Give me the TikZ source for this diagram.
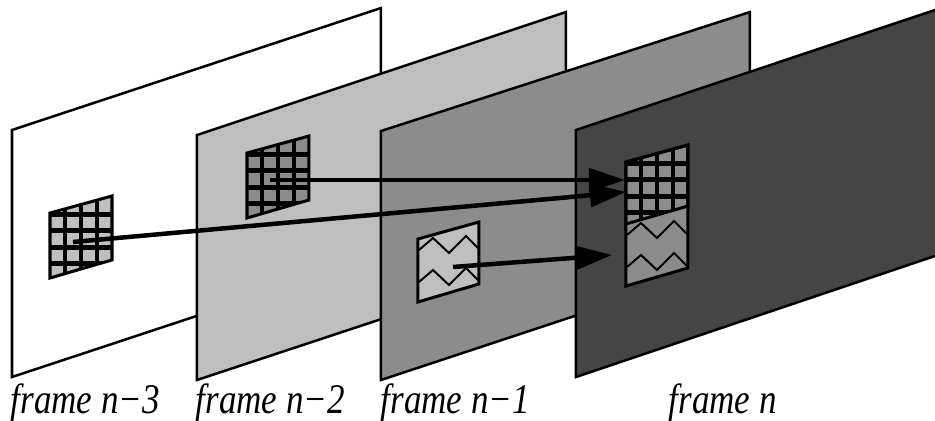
\documentclass[tikz,border=0pt]{standalone}
\usepackage{fontspec}
\setmainfont[FakeStretch=0.83]{Liberation Serif}
\usetikzlibrary{arrows.meta}

\tikzset{
    frameedge/.style={draw=black, line width=0.025cm},
    flowarrow/.style={draw=black, line width=0.045cm, -{Triangle[length=0.36cm, width=0.23cm]}},
    framelabel/.style={anchor=base west, inner sep=0pt, font=\fontsize{12}{14}\selectfont\itshape}
}

% one block of the mesh, corner at #1, cells in grey #2
\newcommand{\meshblock}[2]{
    \begin{scope}[shift={#1}]
        \fill[black!#2!white] (0,0) -- (62,-17) -- (62,47) -- (0,65) -- cycle;
        \begin{scope}
            \clip (0,0) -- (62,-17) -- (62,47) -- (0,65) -- cycle;
            \foreach \xcut in {15,31,47} {
                \draw[line width=0.045cm] (\xcut,-20) -- (\xcut,70);
            }
            \foreach \ycut in {1,17,34,50} {
                \draw[line width=0.05cm] (0,\ycut) -- (62,\ycut);
            }
        \end{scope}
        \draw[line width=0.03cm] (0,0) -- (62,-17) -- (62,47) -- (0,65) -- cycle;
    \end{scope}
}

% the two wavy lines
\newcommand{\zigzags}{
    \foreach \ycut in {0,32} {
        \draw[line width=0.02cm] (1,11+\ycut) -- (15,-1+\ycut) -- (31,14+\ycut) -- (48,-3+\ycut) -- (61,10+\ycut);
    }
}

\begin{document}
\begin{tikzpicture}[x=0.01cm, y=-0.01cm]

    \useasboundingbox (0,0) rectangle (935,421);
    \clip (0,0) rectangle (935,421);

    % Define the ends of the three arrows
    \coordinate (startA) at (270,180);
    \coordinate (tipA) at (625,180);
    \coordinate (startB) at (73,242);
    \coordinate (tipB) at (626,192);
    \coordinate (startC) at (453,267);
    \coordinate (tipC) at (612,255);

    % Draw the frames, back to front
    \draw[frameedge, fill=white] (12,130) -- (381,8) -- (381,255) -- (12,377) -- cycle;
    \draw[frameedge, fill=black!25!white] (197,135) -- (566,12) -- (566,258) -- (197,380) -- cycle;
    \draw[frameedge, fill=black!45!white] (381,131) -- (750,12) -- (750,258) -- (381,380) -- cycle;
    \fill[black!73!white] (576,130) -- (935,10) -- (935,256) -- (576,377) -- cycle;
    \draw[frameedge] (935,10) -- (576,130) -- (576,377) -- (935,256);

    % Blocks in the older frames
    \meshblock{(50,213)}{25}
    \meshblock{(247,153)}{45}

    % Wavy block in frame n-1
    \begin{scope}[shift={(418,239)}]
        \fill[black!25!white] (0,0) -- (61,-17) -- (61,45) -- (0,63) -- cycle;
        \zigzags
        \draw[line width=0.03cm] (0,0) -- (61,-17) -- (61,45) -- (0,63) -- cycle;
    \end{scope}

    % Block in frame n: mesh on top, waves below
    \meshblock{(626,162)}{45}
    \fill[black!45!white] (626,224) -- (688,206) -- (688,268) -- (626,286) -- cycle;
    \begin{scope}[shift={(626,224)}]
        \zigzags
    \end{scope}
    \draw[line width=0.03cm] (626,224) -- (688,206);
    \draw[line width=0.03cm] (626,162) -- (688,145) -- (688,268) -- (626,286) -- cycle;

    % Draw the arrows
    \draw[flowarrow] (startA) -- (tipA);
    \draw[flowarrow] (startB) -- (tipB);
    \draw[flowarrow] (startC) -- (tipC);

    % Add the frame labels
    \node[framelabel] (labelA) at (10,413) {frame n−3};
    \node[framelabel] (labelB) at (195,413) {frame n−2};
    \node[framelabel] (labelC) at (380,413) {frame n−1};
    \node[framelabel] (labelD) at (668,413) {frame n};

\end{tikzpicture}
\end{document}
